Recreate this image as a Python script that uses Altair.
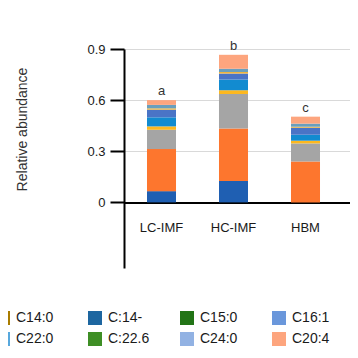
import altair as alt
import pandas as pd

groups = ["LC-IMF", "HC-IMF", "HBM"]
letters = ["a", "b", "c"]

# stacked series, bottom to top
series = ["C12:0", "C16:0", "C18:0", "C18:1", "C18:2", "C18:3", "C20:1", "C20:2", "C20:4"]
c12_0 = [0.066, 0.126, 0.000]
c16_0 = [0.247, 0.308, 0.240]
c18_0 = [0.113, 0.202, 0.106]
c18_1 = [0.020, 0.022, 0.016]
c18_2 = [0.053, 0.063, 0.035]
c18_3 = [0.045, 0.035, 0.041]
c20_1 = [0.008, 0.009, 0.006]
c20_2 = [0.020, 0.019, 0.018]
c20_4 = [0.028, 0.082, 0.041]
values = [c12_0, c16_0, c18_0, c18_1, c18_2, c18_3, c20_1, c20_2, c20_4]
series_colors = ["#1f5fb2", "#fd762e", "#a5a5a5", "#fdb81f", "#128bd0",
                 "#4a74c6", "#f0b43c", "#6a9fbd", "#fda57e"]

legend_names = ["C14:0", "C:14-", "C15:0", "C16:1", "C22:0", "C:22.6", "C24:0", "C20:4"]
legend_colors = ["#a97c00", "#1d66a0", "#227416", "#6a97db", "#58a8dd",
                 "#3e8e25", "#92b2e3", "#fda57e"]

color_domain = list(series)
color_range = list(series_colors)
for n, c in zip(legend_names, legend_colors):
    if n not in color_domain:
        color_domain.append(n)
        color_range.append(c)

rows = []
for i, (s, vals) in enumerate(zip(series, values)):
    for g, v in zip(groups, vals):
        rows.append({"group": g, "series": s, "value": v, "idx": i})
df = pd.DataFrame(rows)

totals = [sum(col) for col in zip(*values)]
tdf = pd.DataFrame({"group": groups, "total": totals, "letter": letters})

FONT = "Liberation Sans"

xenc = alt.X(
    "group:N", sort=groups,
    scale=alt.Scale(paddingInner=0.597, paddingOuter=0.368, align=0.434),
    axis=alt.Axis(title=None, ticks=False, domainColor="black", domainWidth=2,
                  labelFontSize=13, labelColor="#1a1a1a", labelPadding=19,
                  offset=-65.5, labelAngle=0, grid=False, labelFont=FONT),
)

bars = alt.Chart(df).mark_bar().encode(
    x=xenc,
    y=alt.Y(
        "value:Q", stack="zero",
        scale=alt.Scale(domain=[-0.385, 0.9], nice=False, zero=False),
        axis=alt.Axis(
            values=[0, 0.3, 0.6, 0.9],
            labelExpr="datum.value == 0 ? '0' : format(datum.value, '.1f')",
            title="Relative abundance", titleFont=FONT, titleFontSize=14,
            titleFontWeight="normal", titleColor="#333",
            titleX=-102, titleY=80, titleAngle=270, titleBaseline="middle",
            domainColor="black", domainWidth=2,
            tickColor="black", tickWidth=2, tickSize=14,
            labelFont=FONT, labelFontSize=13, labelColor="#1a1a1a", labelPadding=5,
            gridColor="#d9d9d9", gridWidth=1,
        ),
    ),
    color=alt.Color(
        "series:N",
        scale=alt.Scale(domain=color_domain, range=color_range),
        legend=alt.Legend(
            title=None, values=legend_names, orient="none",
            legendX=-128, legendY=262, columns=4, direction="horizontal",
            symbolType="square", symbolSize=196, symbolStrokeWidth=0,
            symbolOpacity=1, labelFont=FONT, labelFontSize=14, labelColor="#1a1a1a",
            labelOffset=6, columnPadding=30, rowPadding=7, gridAlign="all",
            padding=0,
        ),
    ),
    order=alt.Order("idx:Q", sort="ascending"),
)

text = alt.Chart(tdf).mark_text(
    fontSize=13, color="#333", dy=-9, baseline="middle", font=FONT
).encode(
    x=alt.X("group:N", sort=groups),
    y=alt.Y("total:Q"),
    text="letter:N",
)

chart = alt.layer(bars, text).properties(
    width=226, height=219,
    autosize=alt.AutoSizeParams(type="none"),
    padding={"left": 116, "top": 41, "right": 0, "bottom": 78},
).configure_view(stroke=None)

chart.save("out.html", embed_options={"renderer": "svg", "actions": False})
